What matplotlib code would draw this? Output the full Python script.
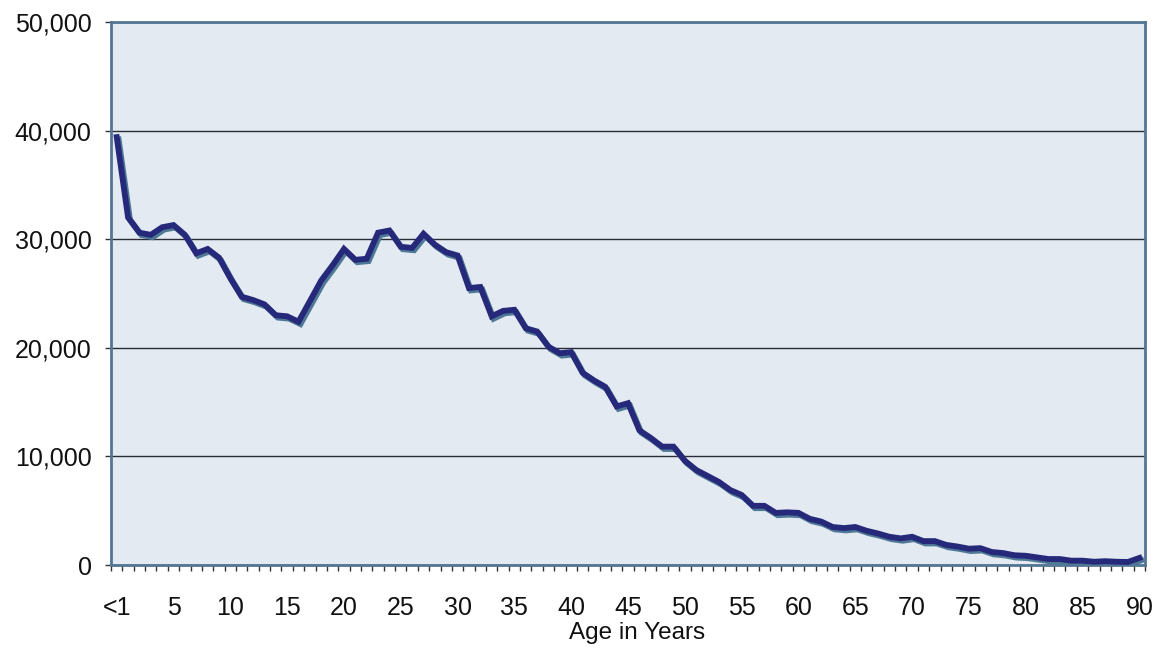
import numpy as np
import matplotlib
matplotlib.use("Agg")
from matplotlib import pyplot as plt
import matplotlib.patheffects as pe
from matplotlib.ticker import FuncFormatter

ages = list(range(0, 91))
counts = [39400, 32000, 30600, 30400, 31100, 31300, 30400, 28700, 29100, 28300,
          26400, 24700, 24400, 24000, 23000, 22900, 22400, 24300, 26200, 27600,
          29100, 28100, 28200, 30600, 30800, 29300, 29200, 30500, 29500, 28800,
          28500, 25500, 25600, 22900, 23400, 23500, 21800, 21500, 20100, 19500,
          19600, 17700, 17000, 16400, 14600, 14900, 12400, 11700, 10900, 10900,
          9600, 8750, 8200, 7650, 6900, 6450, 5450, 5450, 4800, 4850,
          4800, 4250, 4000, 3500, 3400, 3500, 3150, 2900, 2600, 2450,
          2600, 2200, 2200, 1850, 1700, 1500, 1550, 1200, 1100, 900,
          850, 700, 550, 550, 400, 400, 300, 350, 300, 280,
          650]
tick_ages = list(range(0, 91, 5))
tick_labels = ["<1"] + [str(a) for a in tick_ages[1:]]

plt.rcParams['font.family'] = ['Liberation Sans', 'DejaVu Sans']

fig = plt.figure(figsize=(11.75, 6.51), dpi=100)
ax = fig.add_axes([0.0945, 0.1321, 0.88, 0.8341])
ax.set_facecolor('#E3EAF1')

# dark line with a lighter drop shadow
ax.plot(ages, counts, color='#26287A', lw=4.2, solid_joinstyle='miter', zorder=3,
        path_effects=[pe.SimpleLineShadow(offset=(1.4, -1.7), shadow_color='#4E7895', alpha=1),
                      pe.Normal()])

ax.set_xlim(-0.5, 90.5)
ax.set_ylim(0, 50000)
ax.set_yticks(range(0, 50001, 10000))
ax.yaxis.set_major_formatter(FuncFormatter(lambda v, p: f"{int(v):,}"))
ax.grid(axis='y', color='#2b2b38', lw=1.0, zorder=1)
ax.set_axisbelow(True)

ax.set_xticks(tick_ages)
ax.set_xticklabels(tick_labels)
ax.set_xticks(np.arange(-0.5, 91, 1), minor=True)
ax.tick_params(axis='x', which='major', length=0, pad=22, labelsize=18, colors='#111111')
ax.tick_params(axis='x', which='minor', length=4, width=1, color='#333333', direction='out')
ax.tick_params(axis='y', length=4, width=1, color='#333333', pad=10, labelsize=18,
               labelcolor='#111111')

for s in ax.spines.values():
    s.set_color('#527694')
    s.set_linewidth(2)

ax.set_xlabel("Age in Years", fontsize=17.5, labelpad=1, color='#111111')
ax.xaxis.set_label_coords(0.509, -0.105)

fig.savefig("out.png", dpi=100)
